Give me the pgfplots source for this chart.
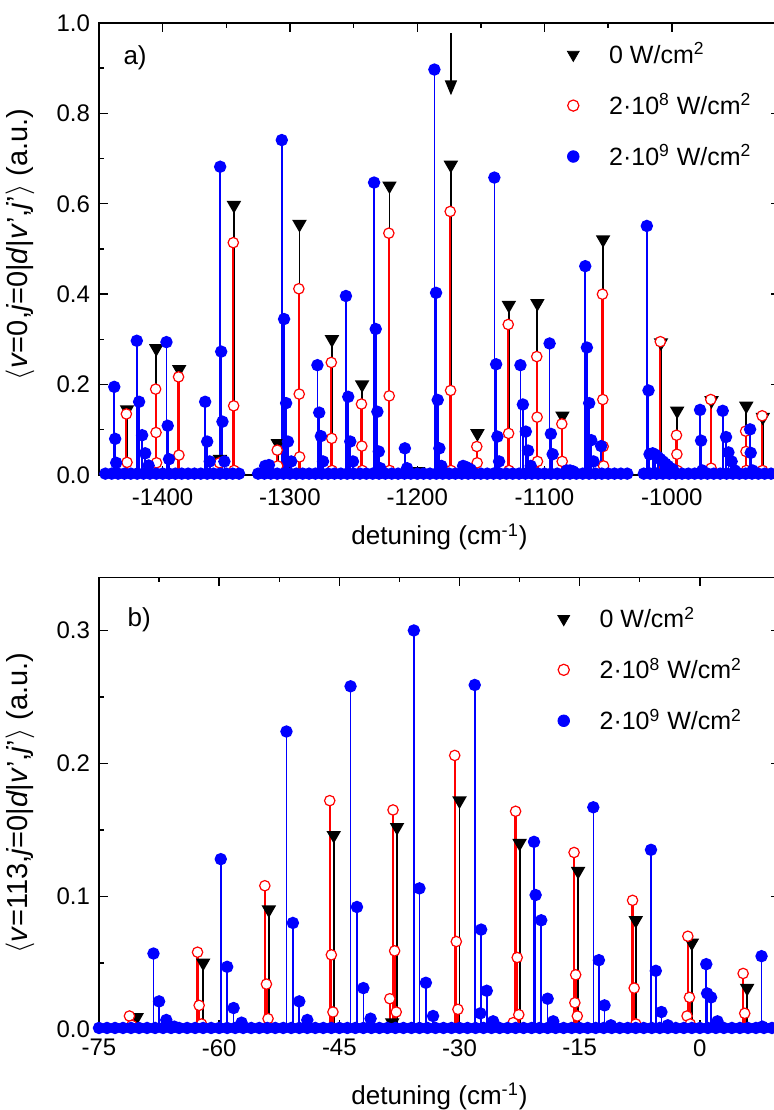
\documentclass[border=0pt]{standalone}
\usepackage{pgfplots}
\pgfplotsset{compat=1.18}
\usepackage{fontspec}
\setmainfont{Liberation Sans}
\usetikzlibrary{arrows.meta}
\definecolor{pblue}{RGB}{0,0,255}
\definecolor{pred}{RGB}{255,0,0}
\pgfplotsset{
  mystyle/.style={
    scale only axis, width=340.5pt, height=226pt,
    tick align=inside,
    major tick length=4.5pt, minor tick length=2.5pt,
    /pgf/number format/assume math mode=true,
    /pgf/number format/1000 sep={},
    tick label style={font=\fontsize{12}{14}\selectfont},
    xlabel style={font=\fontsize{13}{15}\selectfont},
    ylabel style={font=\fontsize{14.5}{17}\selectfont},
    clip=false,
    axis line style={line width=0.7pt},
    every tick/.style={black, line width=0.7pt},
    legend cell align=left,
    legend style={draw=none, fill=none, font=\fontsize{12.5}{14}\selectfont, row sep=9.5pt},
    yticklabel style={xshift=-1pt, /pgf/number format/fixed, /pgf/number format/fixed zerofill, /pgf/number format/precision=1},
  },
  blk/.style={ycomb, black, line width=0.9pt, mark=triangle*, mark size=3.3pt, mark options={rotate=180, fill=black}},
  rd/.style={ycomb, pred, line width=1.1pt, mark=*, mark size=2.6pt, mark options={fill=white, draw=pred, line width=0.6pt}},
  bl/.style={ycomb, pblue, line width=0.8pt, mark=*, mark size=2.7pt, mark options={fill=pblue, draw=pblue}},
  legblk/.style={legend image code/.code={\path[draw=none, fill=none] (0,0) -- (0.86cm,0); \draw[black, mark=triangle*, mark size=3.4pt, mark options={rotate=180, fill=black}] plot coordinates {(0.3cm,0cm)};}},
  legrd/.style={legend image code/.code={\path[draw=none, fill=none] (0,0) -- (0.86cm,0); \draw[pred, mark=*, mark size=2.8pt, mark options={fill=white, draw=pred, line width=0.6pt}] plot coordinates {(0.3cm,0cm)};}},
  legbl/.style={legend image code/.code={\path[draw=none, fill=none] (0,0) -- (0.86cm,0); \draw[pblue, mark=*, mark size=2.9pt, mark options={fill=pblue, draw=pblue}] plot coordinates {(0.3cm,0cm)};}},
}
\begin{document}
\begin{tikzpicture}
\useasboundingbox (0,0) rectangle (387pt,555pt);
% ---------------- top panel ----------------
\begin{axis}[mystyle, at={(49.5pt,317.5pt)}, anchor=south west,
  xmin=-1450, xmax=-915, ymin=0, ymax=1.0,
  xtick={-1400,-1300,-1200,-1100,-1000}, minor x tick num=1,
  ytick={0,0.2,0.4,0.6,0.8,1.0}, minor y tick num=1,
  xticklabel style={yshift=-3.5pt},
  xlabel={detuning (cm\textsuperscript{-1})},
  xlabel style={at={(axis description cs:0.5,-0.137)}, anchor=center},
  ylabel={$\langle$\textit{v}=0,\textit{j}=0|\textit{d}|\textit{v}',\textit{j}'$\rangle$ (a.u.)},
  ylabel style={at={(axis description cs:-0.116,0.51)}, anchor=center},
  legend style={at={(axis description cs:0.662,0.975)}, anchor=north west},
]
\addlegendimage{legblk}
\addlegendentry{0 W/cm\textsuperscript{2}}
\addlegendimage{legrd}
\addlegendentry{2·10\textsuperscript{8} W/cm\textsuperscript{2}}
\addlegendimage{legbl}
\addlegendentry{2·10\textsuperscript{9} W/cm\textsuperscript{2}}

\addplot[blk, forget plot] coordinates {(-1428,0.145) (-1405,0.28) (-1387,0.234) (-1355,0.035) (-1344,0.597) (-1309.5,0.07) (-1292.5,0.555) (-1267,0.30) (-1243.3,0.20) (-1221.8,0.64) (-1199.3,0.008) (-1173.6,0.686) (-1152.7,0.092) (-1128,0.376) (-1105.6,0.38) (-1085.9,0.131) (-1054,0.521) (-1008.5,0.293) (-995.8,0.142) (-968.8,0.165) (-941.5,0.153) (-928.5,0.128)};

\addplot[rd, forget plot] coordinates {(-1428.5,0.135) (-1428,0.028)
(-1405.5,0.19) (-1405.2,0.094) (-1404.8,0.027)
(-1387.5,0.217) (-1387.2,0.044)
(-1355.3,0.027)
(-1344.5,0.514) (-1344.2,0.153) (-1343.9,0.01)
(-1310,0.055) (-1309.6,0.02)
(-1293,0.412) (-1292.7,0.179) (-1292.4,0.04)
(-1267.5,0.249) (-1267.2,0.081) (-1266.9,0.01)
(-1243.8,0.157) (-1243.5,0.064) (-1243.2,0.01)
(-1222.3,0.535) (-1222,0.175) (-1221.7,0.01)
(-1174.1,0.583) (-1173.8,0.187) (-1173.5,0.01)
(-1153.2,0.063) (-1152.9,0.027)
(-1128.5,0.333) (-1128.2,0.092) (-1127.9,0.01)
(-1106.1,0.262) (-1105.8,0.128) (-1105.5,0.03)
(-1086.4,0.113) (-1086.1,0.03)
(-1054.5,0.4) (-1054.2,0.167) (-1053.9,0.063) (-1053.6,0.02)
(-1009,0.295)
(-996.3,0.088) (-996,0.046) (-995.7,0.01)
(-969.4,0.167) (-969.1,0.015)
(-942,0.097) (-941.7,0.052) (-941.4,0.01)
(-929,0.131) (-928.7,0.01)};

\addplot[bl, forget plot] coordinates {(-1438,0.195) (-1437.3,0.08) (-1436.5,0.027)
(-1420.3,0.297) (-1418.5,0.162) (-1416.1,0.088) (-1413.7,0.048) (-1411,0.021)
(-1397,0.294) (-1396,0.109) (-1395,0.035)
(-1366.6,0.162) (-1365,0.074) (-1363,0.03)
(-1354.8,0.682) (-1354,0.273) (-1353,0.118) (-1351.5,0.03)
(-1319.5,0.02) (-1316.5,0.022)
(-1306.4,0.741) (-1304.6,0.345) (-1303,0.159) (-1301.6,0.074) (-1299,0.03)
(-1278.4,0.243) (-1277,0.138) (-1275.7,0.086) (-1274,0.03)
(-1256,0.396) (-1254.2,0.173) (-1252.6,0.074) (-1250.5,0.03)
(-1233.9,0.647) (-1232.6,0.323) (-1231.3,0.14) (-1230.2,0.052) (-1229,0.015)
(-1209.7,0.059) (-1208,0.015)
(-1186.5,0.897) (-1185.2,0.403) (-1183.9,0.166) (-1182.6,0.059) (-1181,0.02)
(-1164,0.02) (-1162,0.018) (-1160,0.015) (-1158,0.012)
(-1139.4,0.658) (-1138,0.245) (-1137,0.085) (-1135.7,0.03)
(-1118.9,0.243) (-1117,0.156) (-1114.7,0.096) (-1112.9,0.054) (-1110.8,0.02)
(-1096,0.291) (-1095,0.091) (-1093.6,0.046)
(-1082.5,0.01) (-1080,0.01) (-1077.5,0.008)
(-1068,0.462) (-1066.7,0.282) (-1064.9,0.159) (-1063.3,0.077) (-1061.5,0.03)
(-1055.5,0.064)
(-1019.6,0.551) (-1018.3,0.187) (-1017.5,0.046)
(-1015,0.048) (-1013,0.045) (-1011,0.04) (-1009,0.035) (-1007,0.03) (-1005,0.025) (-1003,0.02) (-1001,0.015) (-999,0.012)
(-977.8,0.144) (-977,0.076) (-976,0.01)
(-960,0.142) (-957.4,0.084) (-955.5,0.05) (-953,0.03) (-950.5,0.01)
(-938.5,0.101) (-938,0.049) (-936.5,0.01)};

% baseline points (near zero)
\addplot[bl, forget plot] coordinates {(-1445,0.003) (-1440,0.003) (-1435,0.003) (-1430,0.003) (-1425,0.003) (-1420,0.003) (-1415,0.003) (-1410,0.003) (-1405,0.003) (-1400,0.003) (-1395,0.003) (-1390,0.003) (-1385,0.003) (-1380,0.003) (-1375,0.003) (-1370,0.003) (-1365,0.003) (-1360,0.003) (-1355,0.003) (-1350,0.003) (-1345,0.003) (-1340,0.003)
(-1325,0.003) (-1320,0.003) (-1315,0.003) (-1310,0.003) (-1305,0.003) (-1300,0.003) (-1295,0.003) (-1290,0.003) (-1285,0.003) (-1280,0.003) (-1275,0.003) (-1270,0.003) (-1265,0.003) (-1260,0.003) (-1255,0.003) (-1250,0.003) (-1245,0.003) (-1240,0.003) (-1235,0.003) (-1230,0.003) (-1225,0.003) (-1220,0.003) (-1215,0.003) (-1210,0.003) (-1205,0.003) (-1200,0.003) (-1195,0.003) (-1190,0.003) (-1185,0.003) (-1180,0.003) (-1175,0.003) (-1170,0.003) (-1165,0.003) (-1160,0.003) (-1155,0.003) (-1150,0.003) (-1145,0.003) (-1140,0.003) (-1135,0.003) (-1130,0.003) (-1125,0.003) (-1120,0.003) (-1115,0.003) (-1110,0.003) (-1105,0.003) (-1100,0.003) (-1095,0.003) (-1090,0.003) (-1085,0.003) (-1080,0.003) (-1075,0.003) (-1070,0.003) (-1065,0.003) (-1060,0.003) (-1055,0.003) (-1050,0.003) (-1045,0.003) (-1040,0.003) (-1035,0.003)
(-1022,0.003) (-1017,0.003) (-1012,0.003) (-1007,0.003) (-1002,0.003) (-997,0.003) (-992,0.003) (-987,0.003) (-982,0.003) (-977,0.003) (-972,0.003) (-967,0.003) (-962,0.003) (-957,0.003) (-952,0.003) (-947,0.003) (-942,0.003) (-937,0.003) (-932,0.003) (-927,0.003) (-922,0.003)};

\node[font=\fontsize{13}{15}\selectfont] at (axis description cs:0.053,0.923) {a)};
\draw[-{Triangle[length=7.5pt,width=6pt]}, line width=0.8pt] (axis cs:-1173.5,0.977) -- (axis cs:-1173.5,0.84);
\end{axis}
% ---------------- bottom panel ----------------
\begin{axis}[mystyle, at={(49.5pt,40.35pt)}, anchor=south west,
  xmin=-75, xmax=10, ymin=0, ymax=0.34,
  xtick={-75,-60,-45,-30,-15,0}, minor x tick num=1,
  ytick={0,0.1,0.2,0.3}, minor y tick num=1,
  xticklabel style={yshift=-1.5pt},
  xlabel={detuning (cm\textsuperscript{-1})},
  xlabel style={at={(axis description cs:0.5,-0.148)}, anchor=center},
  ylabel={$\langle$\textit{v}=113,\textit{j}=0|\textit{d}|\textit{v}',\textit{j}'$\rangle$ (a.u.)},
  ylabel style={at={(axis description cs:-0.116,0.5)}, anchor=center},
  legend style={at={(axis description cs:0.648,0.953)}, anchor=north west},
]
\addlegendimage{legblk}
\addlegendentry{0 W/cm\textsuperscript{2}}
\addlegendimage{legrd}
\addlegendentry{2·10\textsuperscript{8} W/cm\textsuperscript{2}}
\addlegendimage{legbl}
\addlegendentry{2·10\textsuperscript{9} W/cm\textsuperscript{2}}

\addplot[blk, forget plot] coordinates {(-70.3,0.009) (-62,0.050) (-53.8,0.090) (-45.7,0.146) (-38.4,0.005) (-37.8,0.152) (-30.0,0.172) (-22.5,0.140) (-15.2,0.119) (-8.0,0.082) (-1.0,0.065) (5.9,0.031)};

\addplot[rd, forget plot] coordinates {(-71.2,0.010) (-70.9,0.003)
(-62.7,0.058) (-62.5,0.018) (-62.2,0.004)
(-54.3,0.108) (-54.1,0.034) (-53.9,0.008)
(-46.2,0.172) (-46.0,0.056) (-45.8,0.013)
(-38.7,0.023) (-38.3,0.165) (-38.1,0.059) (-37.9,0.013)
(-30.6,0.206) (-30.4,0.066) (-30.2,0.015)
(-23.3,0.005) (-23.0,0.164) (-22.8,0.054) (-22.6,0.011)
(-15.7,0.133) (-15.6,0.020) (-15.5,0.041) (-15.3,0.010)
(-8.4,0.097) (-8.2,0.031) (-8.0,0.004)
(-1.6,0.010) (-1.5,0.070) (-1.3,0.024) (-1.2,0.004)
(5.4,0.042) (5.6,0.012)};

\addplot[bl, forget plot] coordinates {(-68.2,0.057) (-67.5,0.021) (-66.6,0.007) (-65.6,0.002)
(-59.8,0.128) (-59.0,0.047) (-58.2,0.016) (-57.2,0.005)
(-51.6,0.224) (-50.8,0.080) (-50.0,0.021) (-49.0,0.007)
(-43.6,0.258) (-42.8,0.092) (-42.0,0.031) (-41.1,0.008)
(-35.7,0.300) (-35.0,0.106) (-34.2,0.035) (-33.3,0.010)
(-28.1,0.259) (-27.3,0.075) (-27.4,0.012) (-26.6,0.029) (-25.8,0.006)
(-20.7,0.141) (-20.5,0.101) (-19.8,0.082) (-19.0,0.023) (-18.3,0.006)
(-13.3,0.167) (-12.6,0.052) (-11.9,0.018) (-11.1,0.003)
(-6.1,0.135) (-5.5,0.044) (-4.8,0.013) (-4.0,0.003)
(0.8,0.049) (0.9,0.027) (1.4,0.024) (2.2,0.006)
(7.7,0.055) (7.8,0.002)};

\addplot[bl, forget plot] coordinates {(-75,0.001) (-74,0.001) (-73,0.001) (-72,0.001) (-71,0.001) (-70,0.001) (-69,0.001) (-68,0.001) (-67,0.001) (-66,0.001) (-65,0.001) (-64,0.001) (-63,0.001) (-62,0.001) (-61,0.001) (-60,0.001) (-59,0.001) (-58,0.001) (-57,0.001) (-56,0.001) (-55,0.001) (-54,0.001) (-53,0.001) (-52,0.001) (-51,0.001) (-50,0.001) (-49,0.001) (-48,0.001) (-47,0.001) (-46,0.001) (-45,0.001) (-44,0.001) (-43,0.001) (-42,0.001) (-41,0.001) (-40,0.001) (-39,0.001) (-38,0.001) (-37,0.001) (-36,0.001) (-35,0.001) (-34,0.001) (-33,0.001) (-32,0.001) (-31,0.001) (-30,0.001) (-29,0.001) (-28,0.001) (-27,0.001) (-26,0.001) (-25,0.001) (-24,0.001) (-23,0.001) (-22,0.001) (-21,0.001) (-20,0.001) (-19,0.001) (-18,0.001) (-17,0.001) (-16,0.001) (-15,0.001) (-14,0.001) (-13,0.001) (-12,0.001) (-11,0.001) (-10,0.001) (-9,0.001) (-8,0.001) (-7,0.001) (-6,0.001) (-5,0.001) (-4,0.001) (-3,0.001) (-2,0.001) (-1,0.001) (0,0.001) (1,0.001) (2,0.001) (3,0.001) (4,0.001) (5,0.001) (6,0.001) (7,0.001) (8,0.001) (9,0.001)};

\node[font=\fontsize{13}{15}\selectfont] at (axis description cs:0.059,0.905) {b)};
\end{axis}
\end{tikzpicture}
\end{document}
